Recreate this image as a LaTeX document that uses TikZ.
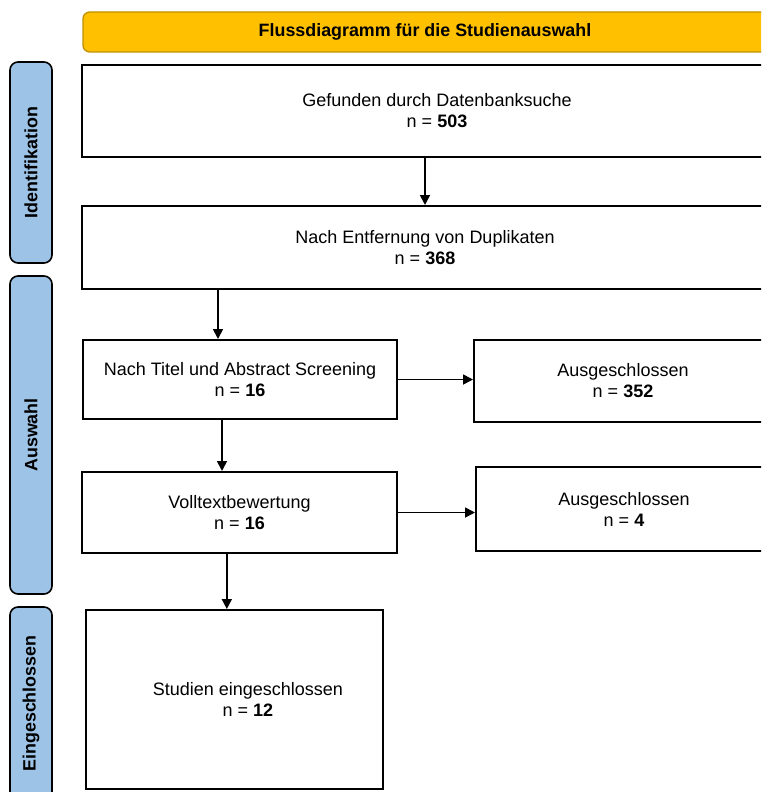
\documentclass[tikz,border=0pt]{standalone}
\usepackage{fontspec}
\setmainfont{Liberation Sans}
\usepackage{xcolor}
\usepackage{tikz}
\usetikzlibrary{arrows.meta}
\definecolor{headgold}{HTML}{FFC000}
\definecolor{headedge}{HTML}{BF9000}
\definecolor{phaseblue}{HTML}{9DC3E6}

\begin{document}
\begin{tikzpicture}[x=0.75pt, y=-0.75pt,
	txt/.style={align=center, font=\fontsize{13.5}{15.75}\selectfont},
	box/.style={txt, draw, line width=1.5pt, inner sep=0},
	phase/.style={draw, line width=1.2pt, fill=phaseblue, rounded corners=6pt, rotate=90, minimum height=31.5pt, inner sep=0, font=\fontsize{13.4}{16}\selectfont\bfseries},
	headbox/.style={draw=headedge, line width=1pt, fill=headgold, rounded corners=5pt, inner sep=0, font=\fontsize{13.4}{16}\selectfont\bfseries},
	arrow/.style={-{Triangle[length=7.5pt,width=7.5pt]}, line width=1.3pt}
]
\useasboundingbox (0,0) rectangle (761,792);
\clip (0,0) rectangle (761,792);

% header
\node[headbox, minimum width=513pt, minimum height=30pt] (head) at (425,32) {Flussdiagramm für die Studienauswahl};

% phases
\node[phase, minimum width=150.75pt] (p1) at (31,162.5) {Identifikation};
\node[phase, minimum width=238.5pt] (p2) at (31,435) {Auswahl};
\node[phase, minimum width=144.75pt] (p3) at (31,703.5) {Eingeschlossen};

% boxes
\node[box, minimum width=514.5pt, minimum height=69pt,
	label={[txt, xshift=9pt]center:Gefunden durch Datenbanksuche\\n = \textbf{503}}] (b1) at (425,111) {};
\node[box, minimum width=514.5pt, minimum height=62.25pt] (b2) at (425,247.5) {Nach Entfernung von Duplikaten\\n = \textbf{368}};
\node[box, minimum width=235.5pt, minimum height=59.25pt] (b3) at (240,379.5) {Nach Titel und Abstract Screening\\n = \textbf{16}};
\node[box, minimum width=223.5pt, minimum height=61.5pt] (e1) at (623,381) {Ausgeschlossen\\n = \textbf{352}};
\node[box, minimum width=236.25pt, minimum height=60.75pt] (b4) at (239.5,512.5) {Volltextbewertung\\n = \textbf{16}};
\node[box, minimum width=222pt, minimum height=63pt] (e2) at (624,509) {Ausgeschlossen\\n = \textbf{4}};
\node[box, minimum width=222.75pt, minimum height=134.25pt,
	label={[txt, xshift=10pt]center:Studien eingeschlossen\\n = \textbf{12}}] (b5) at (234.5,699.5) {};

% arrows
\draw[arrow] (b1.south) -- (b2.north);
\draw[arrow] ([xshift=-16.5pt]b3.north |- b2.south) -- ([xshift=-16.5pt]b3.north);
\draw[arrow] (b3.east) -- (b3.east -| e1.west);
\draw[arrow] ([xshift=-13.5pt]b3.south) -- ([xshift=-13.5pt]b3.south |- b4.north);
\draw[arrow] (b4.east) -- (b4.east -| e2.west);
\draw[arrow] ([xshift=-9.5pt]b4.south) -- ([xshift=-9.5pt]b4.south |- b5.north);
\end{tikzpicture}
\end{document}
